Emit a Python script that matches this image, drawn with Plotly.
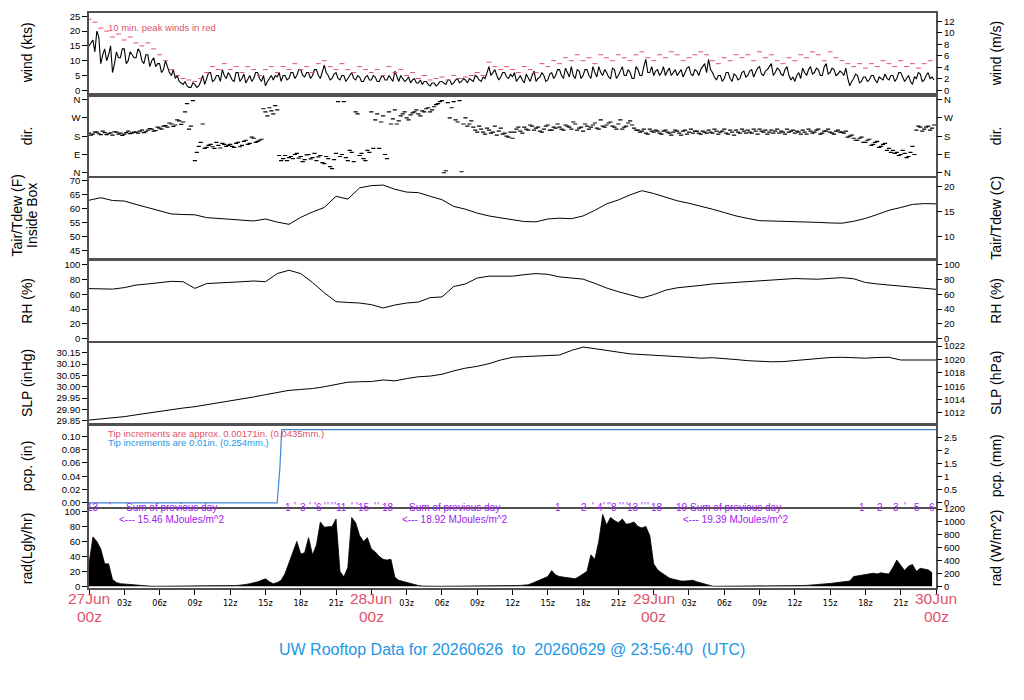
import plotly.graph_objects as go

# the page body has an 8px margin, so the figure is a bit smaller than the window
PAD = 8
W, H = 1024 - 2 * PAD, 700 - 2 * PAD
XL, XR = 89, 936  # plot area left / right edge in screen pixels

RED = "#DF536B"
BLUE = "#2297E6"
PURPLE = "#A020F0"
BOX = "#505050"
FONT = "Liberation Sans, Arial, sans-serif"
NARROW = "Liberation Sans Narrow, DejaVu Sans Condensed, Arial Narrow, sans-serif"

KTS_TO_MS = 0.514444
INHG_TO_HPA = 33.8639
IN_TO_MM = 25.4
LGLY_TO_WM2 = 11.63

# ---- data (hours since 27Jun 00z) ----
# wind speed at :00, :20, :40 (kts)
wind_kts = [
    15, 17, 20, 9, 14, 12, 6, 13, 11, 14, 10, 12,
    11, 13, 9, 12, 10, 8, 9, 7, 8, 5, 4, 3,
    2, 1.5, 1, 2, 1.5, 5, 4, 6, 3.5, 5, 7, 4,
    5, 3, 6, 4, 2.5, 5, 4, 6, 3, 1.5, 4, 3.5,
    4.5, 3, 5, 4, 6, 5, 7, 4.5, 6, 5, 7, 4,
    8.5, 5, 4, 6, 3.5, 5, 4, 6, 3.5, 4.5, 3, 5,
    3.5, 4.5, 3, 5, 3.5, 4, 6.5, 3, 4, 3.5, 2.5, 4,
    2.5, 2, 3, 1.5, 2.5, 2, 3, 2, 3.5, 2.5, 4, 3,
    3.5, 4, 3, 4.5, 3, 4, 8, 6, 5, 4.5, 6, 4,
    4.5, 3, 5, 2.5, 4, 5, 3, 4.5, 5, 3.5, 6, 5,
    7, 4, 6, 8, 4, 6.5, 5, 7, 4, 6, 8, 5,
    6, 4, 7, 5, 8, 5, 6, 4, 7, 5, 10.5, 6,
    5, 7, 6, 5, 7.5, 6, 5, 7, 6, 8, 5, 6.5,
    7, 9, 10.5, 6, 3.5, 5, 4, 6, 3, 5, 4, 6.5,
    5, 7, 6, 8, 5, 7, 9, 6, 7, 5, 8, 3.5,
    3, 6, 7.5, 5, 8, 6, 7, 5, 9, 6, 7, 5.5,
    6, 7.5, 1.5, 4, 5, 3, 4.5, 3.5, 5, 2.5, 4, 5.5,
    3.5, 5, 4, 6, 3, 5, 2, 4, 5.5, 3.5, 6, 4.5,
]
# wind speed at :10, :30, :50 (kts)
wind_kts_b = [
    16, 13, 18, 12, 10, 15, 9, 11, 14, 9, 13, 11,
    14, 10, 12, 8, 11, 9, 6, 10, 6, 7, 5, 2.5,
    3, 1, 2.5, 1, 3, 2, 6, 3, 5, 3, 5, 6,
    3.5, 6, 3, 5.5, 4, 3, 6, 4, 5, 3, 5, 5,
    6, 5, 3.5, 6, 4, 7, 5, 6, 4, 7, 5, 6,
    6, 3.5, 5.5, 4, 5, 3, 5, 4, 5, 3, 4.5, 3.5,
    5, 3, 4.5, 3.5, 5, 3, 4.5, 5, 3, 4.5, 3.5, 2.5,
    3.5, 3, 2, 2.5, 1.5, 3, 2.5, 3.5, 2, 3.5, 2.5, 4,
    2.5, 3.5, 5, 3.5, 4.5, 6, 5, 7, 3.5, 6, 4.5, 5.5,
    6, 4, 3.5, 5.5, 3, 6.5, 4, 6, 3, 5.5, 4, 7,
    5, 7.5, 4.5, 5, 7, 4, 7, 5, 8, 4.5, 6, 7,
    4.5, 7.5, 4, 6.5, 5, 7, 4, 8, 5, 8, 6, 8,
    6.5, 5, 8, 6.5, 5, 7, 6, 4.5, 7.5, 5.5, 7, 5,
    8, 6, 7, 4.5, 5, 3, 6, 4, 5.5, 3.5, 6, 4.5,
    6.5, 4.5, 7.5, 5.5, 6.5, 8, 5, 7.5, 5.5, 7, 5, 4.5,
    5, 4, 6, 7, 5.5, 7.5, 5, 8, 5.5, 7.5, 5, 6.5,
    5, 4, 3, 5.5, 2.5, 4.5, 3, 5, 3.5, 4.5, 3.5, 4,
    5, 3, 6, 4.5, 4, 3, 4.5, 6, 3, 5, 4, 3.5,
]
# 10 min peak winds, every 30 min (kts)
peak_kts = [
    24, 23, 21, 20, 18, 19, 17, 18,
    16, 15, 16, 14, 12, 10, 7, 5,
    4, 3.5, 3, 4, 6, 8, 7, 9,
    7, 8, 6, 8, 7, 5, 7, 8,
    6, 8, 7, 9, 7, 8, 6, 9,
    10, 8, 7, 9, 7, 6, 8, 7,
    6, 7, 5, 8, 6, 7, 5, 6,
    4, 5, 3.5, 4, 4.5, 3.5, 5, 4,
    4.5, 5, 6, 5, 9.5, 8, 7, 8,
    7, 6, 8, 7, 6, 9, 8, 10,
    9, 11, 10, 12, 10, 11, 9, 12,
    11, 10, 12, 11, 10, 12, 13, 11,
    10, 12, 11, 13, 12, 10, 11, 12,
    13, 12, 10, 9, 11, 10, 12, 11,
    12, 10, 13, 11, 12, 10, 9, 11,
    10, 12, 11, 13, 12, 10, 13, 11,
    10, 9, 8, 9, 7.5, 9, 8, 10,
    9, 8, 10, 8, 9, 7.5, 9, 10,
]
# wind direction at :00, :20, :40 (deg, 0 = N)
dir_deg = [
    195, 190, 200, 188, 198, 192, 185, 200, 195, 190, 205, 196,
    200, 205, 198, 210, 215, 208, 220, 230, 225, 240, 235, 255,
    250, 340, 230, 60, 130, 240, 125, 140, 120, 135, 145, 130,
    140, 125, 150, 135, 160, 145, 170, 155, 165, 300, 320, 290,
    310, 60, 85, 75, 70, 95, 80, 65, 90, 75, 60, 85,
    45, 70, 20, 95, 80, 350, 60, 100, 300, 85, 70, 110,
    300, 260, 120, 280, 70, 240, 310, 255, 290, 270, 285, 300,
    290, 305, 315, 300, 325, 340, 355, 10, 270, 350, 250, 5,
    270, 240, 225, 200, 215, 190, 210, 200, 185, 220, 195, 175,
    170, 215, 205, 225, 210, 230, 220, 205, 215, 235, 210, 220,
    225, 210, 230, 215, 240, 220, 205, 230, 225, 245, 215, 230,
    235, 250, 225, 240, 215, 230, 255, 220, 210, 205, 195, 215,
    200, 205, 190, 210, 195, 200, 205, 185, 210, 200, 195, 205,
    190, 200, 210, 195, 205, 200, 215, 190, 200, 210, 195, 205,
    210, 195, 205, 215, 200, 190, 210, 205, 195, 200, 215, 205,
    195, 200, 210, 190, 205, 200, 215, 195, 205, 200, 190, 210,
    200, 205, 180, 170, 160, 175, 150, 165, 140, 155, 130, 145,
    120, 110, 100, 90, 95, 80, 130, 210, 225, 215, 230, 220,
]
# wind direction at :10, :30, :50 (deg)
dir_deg_b = [
    185, 200, 192, 205, 188, 196, 202, 190, 184, 198, 193, 200,
    195, 210, 202, 218, 205, 225, 215, 232, 245, 228, 260, 238,
    300, 215, 355, 100, 150, 120, 135, 128, 150, 122, 140, 135,
    130, 145, 128, 155, 140, 175, 150, 160, 315, 280, 305, 330,
    85, 70, 60, 80, 90, 72, 55, 88, 68, 95, 78, 50,
    80, 30, 65, 350, 90, 75, 110, 55, 290, 95, 60, 100,
    120, 290, 250, 90, 300, 265, 240, 280, 300, 260, 295, 310,
    280, 300, 320, 310, 335, 350, 0, 345, 320, 260, 355, 240,
    230, 255, 210, 230, 200, 220, 195, 230, 205, 190, 180, 200,
    200, 225, 195, 215, 235, 210, 225, 200, 230, 210, 225, 240,
    215, 235, 225, 250, 210, 225, 240, 215, 235, 220, 260, 225,
    245, 230, 215, 260, 225, 245, 235, 210, 200, 215, 190, 205,
    210, 195, 205, 200, 185, 210, 195, 205, 190, 215, 205, 195,
    205, 195, 200, 215, 190, 205, 195, 210, 185, 200, 215, 195,
    200, 215, 190, 205, 210, 200, 195, 215, 205, 190, 200, 210,
    205, 190, 200, 215, 195, 210, 190, 205, 215, 195, 205, 200,
    195, 175, 185, 160, 170, 150, 160, 135, 150, 125, 140, 110,
    100, 95, 85, 110, 75, 100, 90, 230, 205, 225, 210, 235,
]
# hourly air temperature (F)
tair_f = [
    63.1, 64.0, 63.0, 62.8, 61.6, 60.5, 59.3, 58.2, 58.0, 57.9, 56.9, 56.6,
    56.5, 56.0, 55.7, 56.4, 55.3, 54.5, 57.0, 58.9, 60.5, 64.5, 63.5, 67.5,
    68.3, 68.5, 67.0, 66.0, 65.8, 64.5, 63.3, 60.9, 59.9, 58.5, 57.5, 56.8,
    56.1, 55.5, 55.4, 56.4, 56.7, 56.5, 57.5, 59.5, 61.8, 63.2, 65.0, 66.5,
    65.5, 64.3, 62.9, 62.0, 61.0, 59.9, 58.7, 57.5, 56.6, 55.8, 55.7, 55.6,
    55.6, 55.4, 55.2, 55.0, 54.9, 55.6, 56.6, 58.0, 59.5, 60.5, 61.6, 61.9,
    61.8,
]
# hourly relative humidity (%)
rh_pct = [
    67.7, 67.5, 67.0, 69.0, 72.5, 74.0, 76.0, 77.5, 77.0, 68.0, 74.5, 75.0,
    75.8, 77.0, 78.0, 77.0, 88.0, 92.5, 88.0, 76.0, 62.0, 50.0, 49.0, 48.2,
    46.0, 41.5, 45.5, 48.2, 49.5, 55.5, 56.4, 70.5, 74.0, 82.0, 84.5, 84.5,
    84.5, 86.5, 88.0, 87.0, 83.5, 82.0, 80.5, 74.7, 68.5, 63.5, 59.5, 55.0,
    59.5, 65.5, 68.8, 70.0, 72.0, 74.0, 75.0, 76.0, 77.5, 79.0, 80.0, 81.0,
    81.3, 80.8, 80.4, 81.5, 82.5, 81.0, 76.0, 74.0, 72.5, 71.5, 70.0, 68.0,
    66.7,
]
# hourly sea level pressure (inHg)
slp_inhg = [
    29.853, 29.858, 29.862, 29.868, 29.876, 29.884, 29.893, 29.900, 29.906, 29.912,
    29.920, 29.930, 29.938, 29.947, 29.955, 29.965, 29.975, 29.984, 29.988, 29.992,
    30.000, 30.010, 30.020, 30.022, 30.023, 30.030, 30.026, 30.036, 30.044, 30.047,
    30.055, 30.070, 30.082, 30.090, 30.102, 30.118, 30.130, 30.133, 30.135, 30.137,
    30.140, 30.160, 30.175, 30.168, 30.160, 30.152, 30.145, 30.142, 30.138, 30.136,
    30.133, 30.130, 30.126, 30.128, 30.125, 30.120, 30.115, 30.112, 30.110, 30.111,
    30.115, 30.122, 30.126, 30.129, 30.130, 30.127, 30.126, 30.129, 30.130, 30.118,
    30.117, 30.117, 30.118,
]
# accumulated precipitation (in)
pcp_hours = [0, 16.0, 16.17, 16.22, 16.38, 72]
pcp_in = [0, 0, 0.04, 0.05, 0.11, 0.11]
# solar radiation, every 20 min (Lgly/hr)
rad_lgly = [
    30, 66, 60, 50, 30, 30, 9, 5, 3.5, 3, 3, 2.5,
    2, 1.2, 0.3, 0, 0, 0, 0, 0, 0, 0, 0, 0,
    0, 0, 0, 0, 0, 0, 0, 0, 0, 0, 0, 0,
    0.8, 1, 1.2, 1.5, 2.5, 3.5, 4.5, 6, 8, 10, 6, 3.5,
    5, 8, 17, 32, 45, 60, 43, 45, 65, 42, 55, 86,
    79, 80, 80, 90, 20, 12.5, 25, 92, 85, 68, 60, 65,
    50, 46, 40, 36, 35, 36, 12, 8, 6.5, 4.5, 3, 2,
    1, 0.3, 0, 0, 0, 0, 0, 0, 0, 0, 0, 0,
    0, 0, 0, 0, 0, 0, 0, 0, 0, 0, 0, 0,
    0.8, 1, 1.2, 1.5, 2, 4, 6, 8.5, 10, 13, 21, 15,
    13, 12, 11, 10, 10, 13, 17, 20, 42, 36, 60, 96,
    82, 92, 88, 85, 90, 83, 84, 86, 80, 78, 80, 68,
    30, 22, 18, 14, 11, 9.5, 8, 7, 7, 7.5, 8, 6,
    4.5, 2.5, 0.8, 0.2, 0, 0, 0, 0, 0, 0, 0, 0,
    0, 0, 0, 0, 0, 0, 0, 0, 0, 0, 0, 0,
    0, 0.8, 1, 1.2, 1.5, 2, 2.5, 3, 3.5, 3.8, 4.5, 5,
    5.5, 6, 7, 13, 14, 15, 16.5, 17, 17.5, 16.5, 18, 17,
    16.5, 25, 35, 28, 21, 27, 29, 20, 24, 23, 22, 18,
]
# purple hour markers in the radiation panel
rad_label_x = [0.37, 16.94, 18.22, 19.58, 21.48, 23.40, 25.44, 39.89, 42.08, 43.44,
               44.65, 46.27, 48.31, 50.43, 65.73, 67.24, 68.57, 70.41, 71.68]
rad_label_txt = ["13", "1", "3", "6", "11", "15", "18", "1", "2", "4",
                 "8", "13", "18", "19", "1", "2", "3", "5", "6"]
rad_tick_x = [1.79, 17.51, 18.79, 19.21, 20.06, 20.32, 20.63, 20.91, 22.33, 22.76,
              24.31, 24.57, 42.84, 43.78, 44.09, 44.29, 45.14, 45.39, 45.71, 46.98,
              47.26, 47.52, 69.36]
rad_sum_x = [7.03, 31.03, 54.98]
rad_sum_mj = ["15.46", "18.92", "19.39"]

day_hours = [0, 24, 48, 72]
day_labels = ["27Jun", "28Jun", "29Jun", "30Jun"]

hours_20 = [k / 3 for k in range(len(wind_kts))]
hours_20b = [k / 3 + 1 / 6 for k in range(len(wind_kts_b))]
hours_30 = [k / 2 for k in range(len(peak_kts))]
hours_1 = list(range(len(tair_f)))

# 10-minute wind series, both sub-samples in time order
wind_t, wind_v = [], []
for ta, va, tb, vb in zip(hours_20, wind_kts, hours_20b, wind_kts_b):
    wind_t += [ta, tb]
    wind_v += [va, vb]

# ---- panels: screen pixel top/bottom, left range, right range, ticks ----
panels = [
    dict(px=(13.3, 93.3), rng=[-1.0, 26.0], k=KTS_TO_MS,
         lt=[0, 5, 10, 15, 20, 25], rt=[0, 2, 4, 6, 8, 10, 12],
         ltitle="wind (kts)", rtitle="wind (m/s)"),
    dict(px=(96.7, 175.7), rng=[-14.4, 374.4], k=1,
         lt=[0, 90, 180, 270, 360], rt=[0, 90, 180, 270, 360],
         ltxt=["N", "E", "S", "W", "N"], ltitle="dir.", rtitle="dir."),
    dict(px=(177.5, 258), rng=[42.5, 71.2], c=True,
         lt=[45, 50, 55, 60, 65, 70], rt=[10, 15, 20],
         ltitle=None, rtitle="Tair/Tdew (C)"),
    dict(px=(260.7, 341), rng=[-3.1, 105.4], k=1,
         lt=[0, 20, 40, 60, 80, 100], rt=[0, 20, 40, 60, 80, 100],
         ltitle="RH (%)", rtitle="RH (%)"),
    dict(px=(343, 423), rng=[29.84, 30.193], k=INHG_TO_HPA,
         lt=[29.85, 29.90, 29.95, 30.00, 30.05, 30.10, 30.15],
         rt=[1012, 1014, 1016, 1018, 1020, 1022], lfmt=".2f",
         ltitle="SLP (inHg)", rtitle="SLP (hPa)"),
    dict(px=(426, 506.5), rng=[-0.0055, 0.1154], k=IN_TO_MM,
         lt=[0, 0.02, 0.04, 0.06, 0.08, 0.10], rt=[0, 0.5, 1, 1.5, 2, 2.5],
         lfmt=".2f", ltitle="pcp. (in)", rtitle="pcp. (mm)"),
    dict(px=(508.5, 588), rng=[-2.3, 104.0], k=LGLY_TO_WM2,
         lt=[0, 20, 40, 60, 80, 100], rt=[0, 200, 400, 600, 800, 1000, 1200],
         ltitle="rad(Lgly/hr)", rtitle="rad (W/m^2)"),
]


def pxx(x):
    return (x - PAD) / W


def pyy(y):
    return 1 - (y - PAD) / H


layout = dict(
    width=W, height=H, margin=dict(l=0, r=0, t=0, b=0, autoexpand=False),
    paper_bgcolor="white", plot_bgcolor="white", showlegend=False,
    font=dict(family=FONT, size=9, color="black"),
)
annotations = []


def vtitle(xpx, ypx, text):
    return dict(x=pxx(xpx), y=pyy(ypx), xref="paper", yref="paper", text=text,
                textangle=-90, showarrow=False, xanchor="center", yanchor="middle",
                font=dict(size=14))


n = len(panels)
for i, p in enumerate(panels, start=1):
    xs = "" if i == 1 else str(i)
    ri = i + n
    top, bot = p["px"]
    dom = [pyy(bot), pyy(top)]
    xa = dict(domain=[pxx(XL), pxx(XR)], range=[0, 72], anchor="y" + xs,
              showline=True, mirror=True, linecolor=BOX, linewidth=1.5,
              showgrid=False, zeroline=False, showticklabels=False, ticks="",
              automargin=False)
    if i == n:
        tv = list(range(0, 73, 3))
        xa.update(ticks="outside", ticklen=5, tickcolor="black", tickwidth=1,
                  showticklabels=True, tickvals=tv,
                  ticktext=["" if h % 24 == 0 else "%02dz" % (h % 24) for h in tv],
                  tickfont=dict(family=NARROW, size=9, color="black"))
    layout["xaxis" + xs] = xa

    ya = dict(domain=dom, range=p["rng"], anchor="x" + xs,
              showline=True, mirror=True, linecolor=BOX, linewidth=1.5,
              showgrid=False, zeroline=False, ticks="outside", ticklen=5,
              tickcolor="black", tickvals=p["lt"], tickfont=dict(size=9.5),
              automargin=False)
    if "ltxt" in p:
        ya["ticktext"] = p["ltxt"]
    if "lfmt" in p:
        ya["tickformat"] = p["lfmt"]
    layout["yaxis" + xs] = ya

    if p.get("c"):
        rrng = [(v - 32) / 1.8 for v in p["rng"]]
    else:
        rrng = [v * p["k"] for v in p["rng"]]
    yr = dict(overlaying="y" + xs, side="right", anchor="x" + xs, range=rrng,
              showgrid=False, zeroline=False, showline=False, ticks="outside",
              ticklen=5, tickcolor="black", tickvals=p["rt"], tickfont=dict(size=9.5),
              automargin=False)
    if "ltxt" in p:
        yr["ticktext"] = p["ltxt"]
    layout["yaxis" + str(ri)] = yr

    mid = (top + bot) / 2
    if p["ltitle"]:
        annotations.append(vtitle(27, mid, p["ltitle"]))
    annotations.append(vtitle(996, mid, p["rtitle"]))

# two-line temperature title on the left (kept inside the figure's left edge)
annotations.append(vtitle(16.5, 216, "Tair/Tdew (F)"))
annotations.append(vtitle(32, 216, "Inside Box"))

# right axes need something attached so they are drawn
traces = []
for i in range(1, n + 1):
    xs = "" if i == 1 else str(i)
    traces.append(go.Scatter(x=[None], y=[None], xaxis="x" + xs,
                             yaxis="y" + str(i + n), hoverinfo="skip"))

traces += [
    go.Scatter(x=wind_t, y=wind_v, mode="lines", xaxis="x", yaxis="y",
               line=dict(color="black", width=1.1)),
    go.Scatter(x=hours_30, y=peak_kts, mode="markers", xaxis="x", yaxis="y",
               marker=dict(symbol="line-ew", size=3.5, color=RED,
                           line=dict(color=RED, width=1))),
    go.Scatter(x=hours_20 + hours_20b, y=dir_deg + dir_deg_b, mode="markers",
               xaxis="x2", yaxis="y2",
               marker=dict(symbol="line-ew", size=3, color="black",
                           line=dict(color="black", width=1.2))),
    go.Scatter(x=hours_1, y=tair_f, mode="lines", xaxis="x3", yaxis="y3",
               line=dict(color="black", width=1)),
    go.Scatter(x=hours_1, y=rh_pct, mode="lines", xaxis="x4", yaxis="y4",
               line=dict(color="black", width=1)),
    go.Scatter(x=hours_1, y=slp_inhg, mode="lines", xaxis="x5", yaxis="y5",
               line=dict(color="black", width=1)),
    go.Scatter(x=pcp_hours, y=pcp_in, mode="lines", xaxis="x6", yaxis="y6",
               line=dict(color="#3F86D6", width=1.2)),
    go.Scatter(x=hours_20, y=rad_lgly, mode="lines", xaxis="x7", yaxis="y7",
               fill="tozeroy", fillcolor="black",
               line=dict(color="black", width=0.8)),
]

# panel texts
annotations.append(dict(x=pxx(106), y=pyy(20), xref="paper", yref="paper",
                        text="10 min. peak winds in red", xanchor="left",
                        showarrow=False, font=dict(size=9.5, color=RED)))
annotations.append(dict(x=pxx(106), y=pyy(433.5), xref="paper", yref="paper",
                        text="Tip increments are approx. 0.00171in. (0.0435mm.)",
                        xanchor="left", showarrow=False, font=dict(size=9.5, color=RED)))
annotations.append(dict(x=pxx(106), y=pyy(442.5), xref="paper", yref="paper",
                        text="Tip increments are 0.01in. (0.254mm.)",
                        xanchor="left", showarrow=False, font=dict(size=9.5, color=BLUE)))

for hx, t in zip(rad_label_x, rad_label_txt):
    annotations.append(dict(x=hx, y=pyy(515), xref="x7", yref="paper", text=t,
                            showarrow=False, font=dict(size=10, color=PURPLE)))
for hx in rad_tick_x:
    annotations.append(dict(x=hx, y=pyy(514), xref="x7", yref="paper", text="'",
                            showarrow=False, font=dict(size=10, color=PURPLE)))
for hx, mj in zip(rad_sum_x, rad_sum_mj):
    annotations.append(dict(x=hx, y=pyy(515), xref="x7", yref="paper",
                            text="Sum of previous day", showarrow=False,
                            font=dict(size=10, color=PURPLE)))
    annotations.append(dict(x=hx, y=pyy(527), xref="x7", yref="paper",
                            text="<--- %s MJoules/m^2" % mj, showarrow=False,
                            font=dict(size=10, color=PURPLE)))

# day labels under the time axis
for hx, d in zip(day_hours, day_labels):
    annotations.append(dict(x=hx, y=pyy(609), xref="x7", yref="paper", text=d,
                            showarrow=False, font=dict(size=15.5, color=RED)))
    annotations.append(dict(x=hx, y=pyy(627), xref="x7", yref="paper", text="00z",
                            showarrow=False, font=dict(size=15.5, color=RED)))

annotations.append(dict(
    x=pxx(512), y=pyy(660), xref="paper", yref="paper", showarrow=False,
    text="UW Rooftop Data for 20260626\u00a0 to\u00a0 20260629 @ 23:56:40\u00a0 (UTC)",
    font=dict(size=16, color=BLUE)))

layout["annotations"] = annotations

fig = go.Figure(data=traces, layout=layout)
fig.write_html("out.html")
